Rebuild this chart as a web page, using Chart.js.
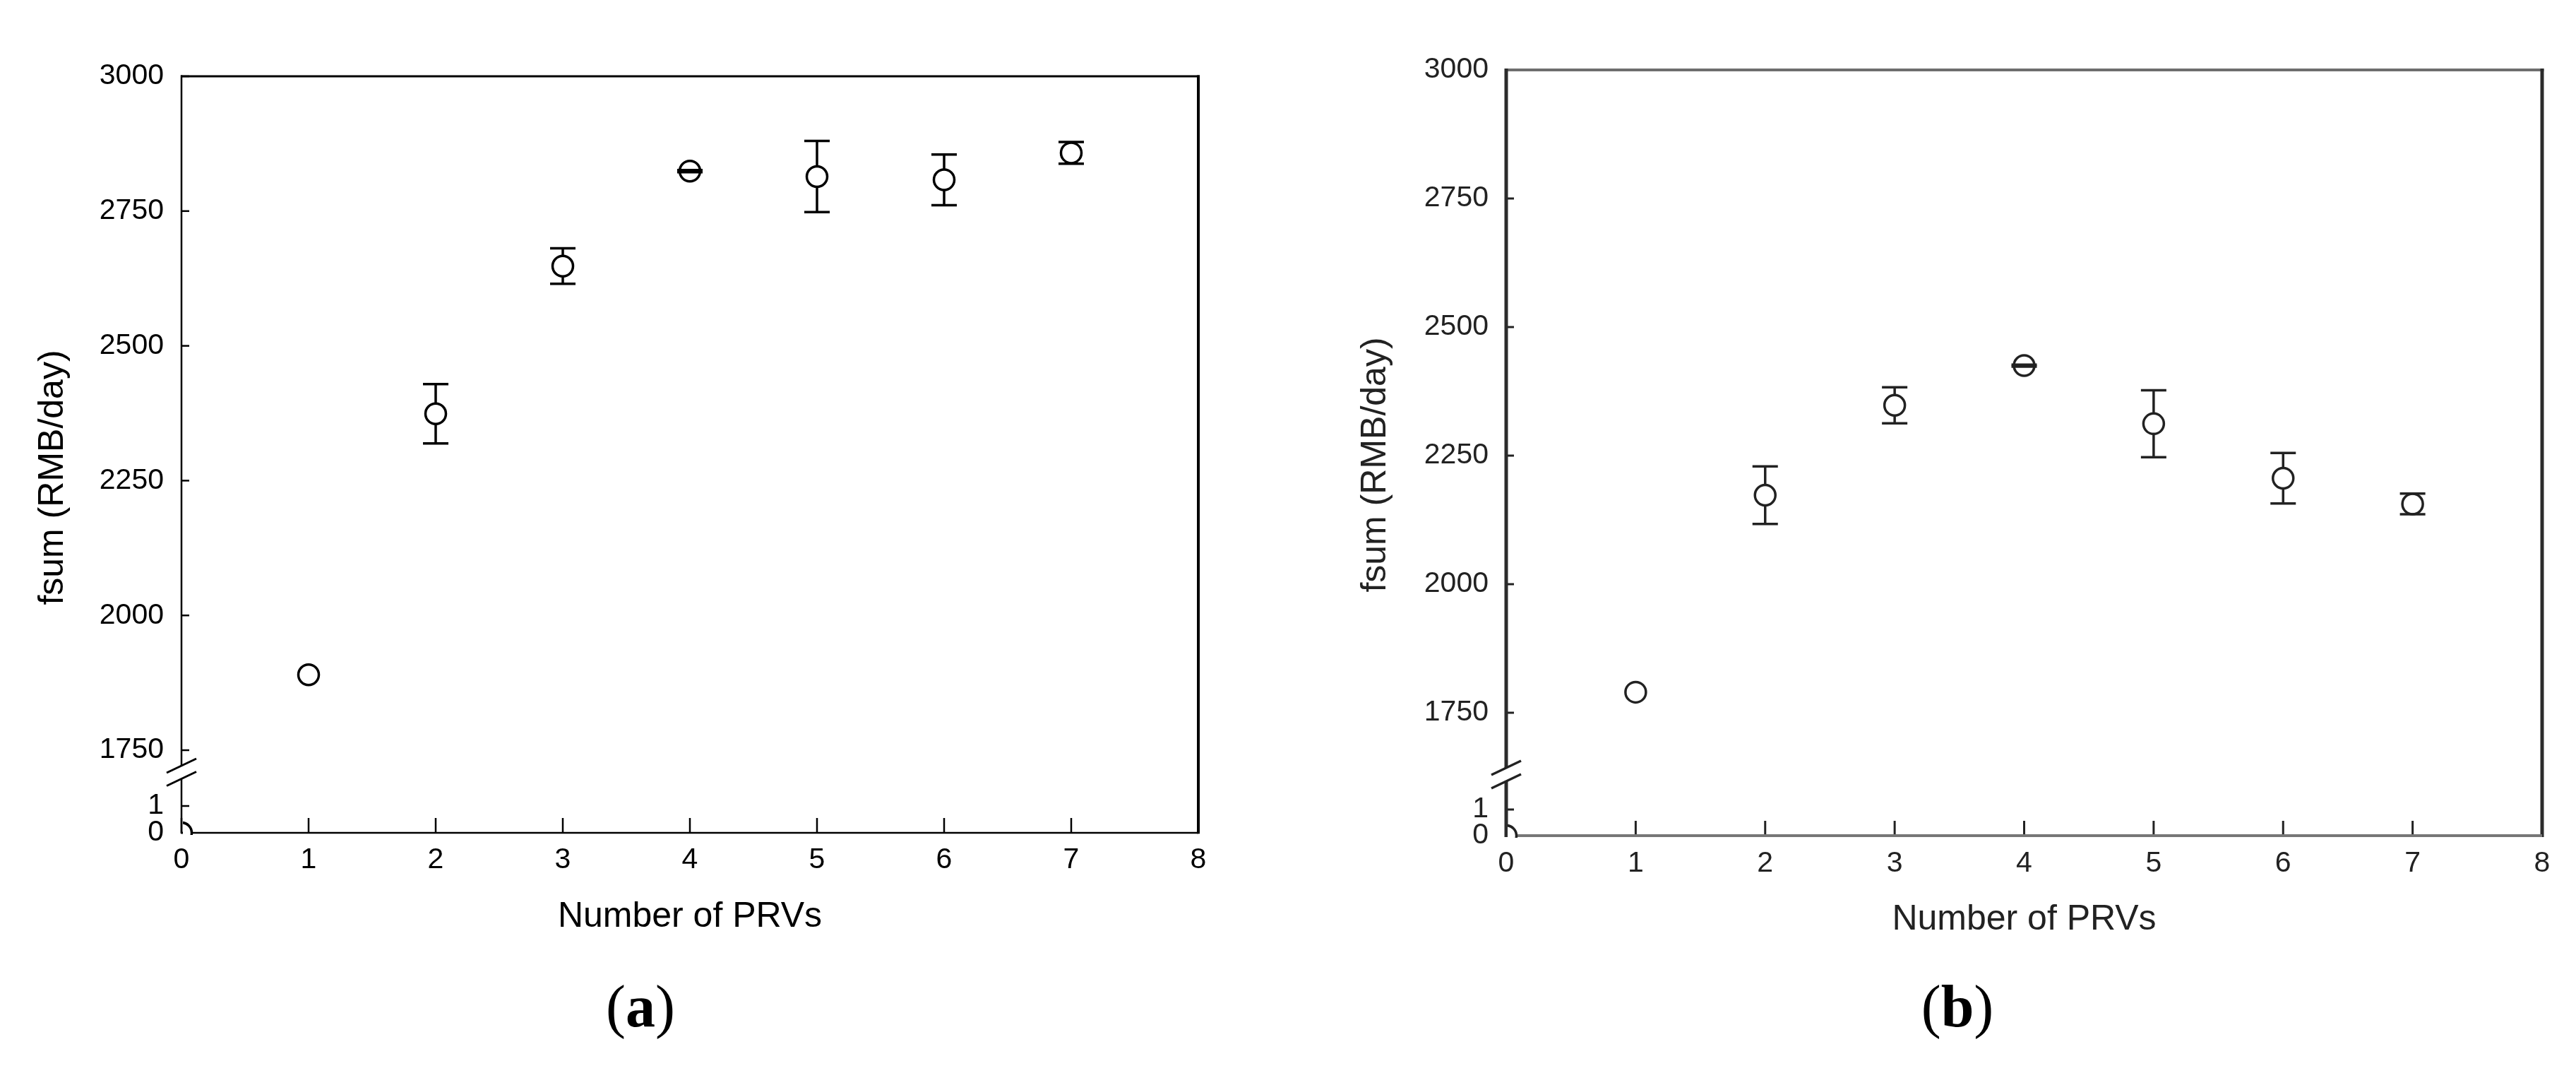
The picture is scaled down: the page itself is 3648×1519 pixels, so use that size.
<!DOCTYPE html>
<html>
<head>
<meta charset="utf-8">
<title>fsum vs Number of PRVs</title>
<script src="https://cdn.jsdelivr.net/npm/chart.js@4.4.1/dist/chart.umd.min.js"></script>
<style>
  html, body { margin: 0; padding: 0; background: #fff; }
  #wrap { position: relative; width: 3648px; height: 1519px; }
  canvas { position: absolute; top: 0; }
  #chartA { left: 0; }
  #chartB { left: 1824px; }
</style>
</head>
<body>
<div id="wrap">
  <canvas id="chartA" width="1824" height="1519"></canvas>
  <canvas id="chartB" width="1824" height="1519"></canvas>
</div>
<script>
// Number of PRVs (x values of the markers)
const prvCounts = [1, 2, 3, 4, 5, 6, 7];

// fsum (RMB/day) and the half height of each error bar
const fsumA = [1890, 2374, 2648, 2824, 2814, 2808, 2858];
const errA  = [0, 55, 33, 2, 66, 47, 20];
const fsumB = [1790, 2173, 2348, 2425, 2312, 2206, 2156];
const errB  = [0, 56, 35, 2, 65, 49, 20];

// the half-hidden marker sitting in the corner at (0, 0)
const originX = [0];
const originY = [0];

// tick labels
const xTicks = [0, 1, 2, 3, 4, 5, 6, 7, 8];
const yTicksUpper = [1750, 2000, 2250, 2500, 2750, 3000];
const yTicksLower = [0, 1];

const xTitle = 'Number of PRVs';
const yTitle = 'fsum (RMB/day)';

const sans = "'Liberation Sans', Arial, Helvetica, sans-serif";
const serif = "'Liberation Serif', 'Times New Roman', serif";

function seg(ctx, x1, y1, x2, y2, color, width) {
    ctx.strokeStyle = color;
    ctx.lineWidth = width;
    ctx.beginPath();
    ctx.moveTo(x1, y1);
    ctx.lineTo(x2, y2);
    ctx.stroke();
}

// box frame, inward ticks, axis break and error bars
const frameAndBars = {
    id: 'frameAndBars',
    beforeDatasetsDraw(chart, args, o) {
        const ctx = chart.ctx;
        const a = chart.chartArea;
        const split = chart.scales.y0.top;
        ctx.save();
        ctx.lineCap = 'butt';

        // ticks pointing into the plot
        chart.scales.x.ticks.forEach(t => {
            const px = chart.scales.x.getPixelForValue(t.value);
            seg(ctx, px, a.bottom, px, a.bottom - o.xTickLen, o.ink, o.tickWidth);
        });
        ['y', 'y0'].forEach(id => {
            const sc = chart.scales[id];
            sc.ticks.forEach(t => {
                const py = sc.getPixelForValue(t.value);
                seg(ctx, a.left, py, a.left + o.yTickLen, py, o.ink, o.tickWidth);
            });
        });

        // frame
        seg(ctx, a.left - 1, a.top, a.right + o.rightWidth / 2, a.top, o.topColor, o.topWidth);
        seg(ctx, a.right, a.top - o.topWidth / 2, a.right, a.bottom + o.bottomWidth / 2, o.rightColor, o.rightWidth);
        seg(ctx, a.left, a.bottom, a.right, a.bottom, o.bottomColor, o.bottomWidth);
        seg(ctx, a.left, a.top - o.topWidth / 2, a.left, split + o.breakOffsets[0], o.leftColor, o.leftWidth);
        seg(ctx, a.left, split + o.breakOffsets[1], a.left, a.bottom + o.bottomWidth / 2, o.leftColor, o.leftWidth);

        // break marks
        o.breakOffsets.forEach(off => {
            const cy = split + off;
            seg(ctx, a.left - 21, cy + 10, a.left + 21, cy - 10, o.ink, o.breakWidth);
        });

        // error bar stems, hidden under the marker fill
        const meta = chart.getDatasetMeta(0);
        const ds = chart.data.datasets[0];
        const ys = chart.scales.y;
        meta.data.forEach((pt, i) => {
            const e = ds.errors[i];
            if (!e) return;
            const top = ys.getPixelForValue(ds.data[i].y + e);
            const bot = ys.getPixelForValue(ds.data[i].y - e);
            seg(ctx, pt.x, top, pt.x, bot, o.ink, o.barWidth);
        });
        ctx.restore();
    },
    afterDatasetsDraw(chart, args, o) {
        const ctx = chart.ctx;
        const meta = chart.getDatasetMeta(0);
        const ds = chart.data.datasets[0];
        const ys = chart.scales.y;
        ctx.save();
        // caps on top of the markers
        meta.data.forEach((pt, i) => {
            const e = ds.errors[i];
            if (!e) return;
            [ds.data[i].y + e, ds.data[i].y - e].forEach(v => {
                const py = ys.getPixelForValue(v);
                seg(ctx, pt.x - o.capHalf, py, pt.x + o.capHalf, py, o.ink, o.barWidth);
            });
        });
        ctx.restore();
    },
    afterDraw(chart, args, o) {
        const ctx = chart.ctx;
        ctx.save();
        ctx.fillStyle = o.ink;

        // rotated y axis title
        ctx.translate(o.yTitleX, o.yTitleY);
        ctx.rotate(-Math.PI / 2);
        ctx.font = '50px ' + sans;
        ctx.textAlign = 'center';
        ctx.textBaseline = 'middle';
        ctx.fillText(yTitle, 0, 0);
        ctx.setTransform(1, 0, 0, 1, 0, 0);

        // panel caption, bold letter inside plain brackets
        const parts = [['(', 'normal'], [o.letter, 'bold'], [')', 'normal']];
        let w = 0;
        parts.forEach(p => {
            ctx.font = p[1] + ' 84px ' + serif;
            w += ctx.measureText(p[0]).width;
        });
        let x = o.captionX - w / 2;
        ctx.textAlign = 'left';
        ctx.textBaseline = 'alphabetic';
        ctx.fillStyle = '#000';
        parts.forEach(p => {
            ctx.font = p[1] + ' 84px ' + serif;
            ctx.fillText(p[0], x, o.captionY);
            x += ctx.measureText(p[0]).width;
        });
        ctx.restore();
    }
};

function makeChart(id, values, errors, look) {
    const tickFont = { family: sans, size: 41 };
    const marker = {
        pointRadius: 14.5,
        pointHoverRadius: 14.5,
        pointBorderWidth: 3.5,
        pointBackgroundColor: '#fff',
        pointBorderColor: look.ink
    };
    return new Chart(document.getElementById(id), {
        type: 'scatter',
        data: {
            datasets: [Object.assign({
                data: prvCounts.map((x, i) => ({ x: x, y: values[i] })),
                errors: errors,
                yAxisID: 'y'
            }, marker), Object.assign({
                data: originX.map((x, i) => ({ x: x, y: originY[i] })),
                yAxisID: 'y0',
                clip: { left: -2, top: 0, right: 0, bottom: 3 }
            }, marker)]
        },
        options: {
            responsive: false,
            devicePixelRatio: 1,
            animation: false,
            events: [],
            layout: { padding: look.padding },
            plugins: {
                legend: { display: false },
                tooltip: { enabled: false },
                frameAndBars: look
            },
            scales: {
                x: {
                    type: 'linear',
                    position: 'bottom',
                    min: 0,
                    max: 8,
                    afterBuildTicks: sc => { sc.ticks = xTicks.map(v => ({ value: v })); },
                    afterFit: sc => { sc.height = look.xAxisHeight; },
                    grid: { display: false, drawTicks: false },
                    border: { display: false },
                    ticks: { autoSkip: false, padding: look.xTickPad, color: look.ink, font: tickFont, callback: v => String(v) },
                    title: { display: true, text: xTitle, color: look.ink, font: { family: sans, size: 50 }, padding: 0 }
                },
                y: {
                    type: 'linear',
                    position: 'left',
                    stack: 'fsum',
                    stackWeight: look.upperWeight,
                    weight: 1,
                    min: look.upperMin,
                    max: 3000,
                    afterBuildTicks: sc => { sc.ticks = yTicksUpper.map(v => ({ value: v })); },
                    afterFit: sc => { sc.width = look.yAxisWidth; },
                    grid: { display: false, drawTicks: false },
                    border: { display: false },
                    ticks: { autoSkip: false, padding: 25, color: look.ink, font: tickFont, callback: v => String(v) }
                },
                y0: {
                    type: 'linear',
                    position: 'left',
                    stack: 'fsum',
                    stackWeight: look.lowerWeight,
                    weight: 0,
                    min: 0,
                    max: look.lowerMax,
                    afterBuildTicks: sc => { sc.ticks = yTicksLower.map(v => ({ value: v })); },
                    afterFit: sc => { sc.width = look.yAxisWidth; },
                    grid: { display: false, drawTicks: false },
                    border: { display: false },
                    ticks: { autoSkip: false, padding: 25, color: look.ink, font: tickFont, callback: v => String(v) }
                }
            }
        },
        plugins: [frameAndBars]
    });
}

makeChart('chartA', fsumA, errA, {
    padding: { left: 0, right: 127, top: 108, bottom: 191 },
    yAxisWidth: 257, xAxisHeight: 149, xTickPad: 14,
    upperMin: 1709.4, lowerMax: 2.263, upperWeight: 985, lowerWeight: 86,
    ink: '#000',
    topColor: '#000', topWidth: 3, rightColor: '#000', rightWidth: 4,
    bottomColor: '#000', bottomWidth: 2.5, leftColor: '#000', leftWidth: 2.5,
    tickWidth: 2.5, xTickLen: 21, yTickLen: 11, breakWidth: 3, breakOffsets: [-9, 9.5],
    barWidth: 3.5, capHalf: 18,
    yTitleX: 75, yTitleY: 676, captionX: 907, captionY: 1453, letter: 'a'
});

makeChart('chartB', fsumB, errB, {
    padding: { left: 0, right: 48, top: 99, bottom: 187 },
    yAxisWidth: 309, xAxisHeight: 149, xTickPad: 15,
    upperMin: 1630.5, lowerMax: 2.351, upperWeight: 997, lowerWeight: 87,
    ink: '#222',
    topColor: '#6e6e6e', topWidth: 4, rightColor: '#2b2b2b', rightWidth: 5,
    bottomColor: '#777', bottomWidth: 4, leftColor: '#2b2b2b', leftWidth: 5,
    tickWidth: 3, xTickLen: 21, yTickLen: 11, breakWidth: 3.5, breakOffsets: [-9, 10],
    barWidth: 3.5, capHalf: 18,
    yTitleX: 124, yTitleY: 658, captionX: 948, captionY: 1453, letter: 'b'
});
</script>
</body>
</html>
